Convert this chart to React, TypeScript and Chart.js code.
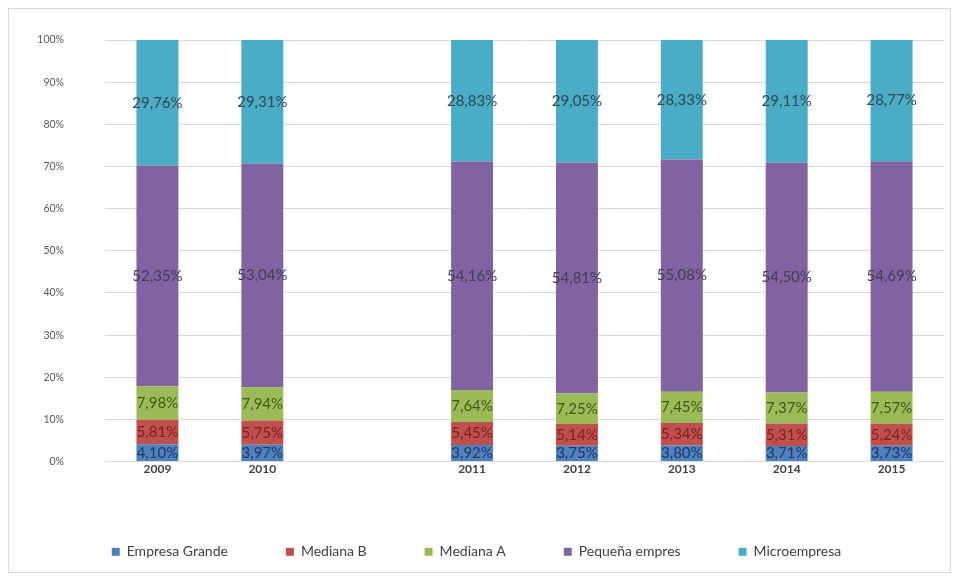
import React, { useEffect, useRef } from "react";
import { Chart, registerables } from "chart.js";

Chart.register(...registerables);

const categories = ["2009", "2010", "", "2011", "2012", "2013", "2014", "2015"];
const empresaGrande = [4.1, 3.97, null, 3.92, 3.75, 3.8, 3.71, 3.73];
const medianaB = [5.81, 5.75, null, 5.45, 5.14, 5.34, 5.31, 5.24];
const medianaA = [7.98, 7.94, null, 7.64, 7.25, 7.45, 7.37, 7.57];
const pequena = [52.35, 53.04, null, 54.16, 54.81, 55.08, 54.5, 54.69];
const micro = [29.76, 29.31, null, 28.83, 29.05, 28.33, 29.11, 28.77];
const seriesNames = ["Empresa Grande", "Mediana B", "Mediana A", "Pequeña empres", "Microempresa"];
const yTicks = [0, 10, 20, 30, 40, 50, 60, 70, 80, 90, 100];

const colors = ["#4F81BD", "#C0504D", "#9BBB59", "#8064A2", "#4BACC6"];
const labelColors = ["#1f3864", "#7a1f1d", "#3f5a14", "#463a58", "#2b4a56"];

const fmt = (v: number) => v.toFixed(2).replace(".", ",") + "%";

const dataLabels = {
  id: "dataLabels",
  afterDatasetsDraw(chart: any) {
    const ctx = chart.ctx;
    ctx.save();
    ctx.font = "15px Lato";
    ctx.textAlign = "center";
    ctx.textBaseline = "middle";
    chart.data.datasets.forEach((ds: any, di: number) => {
      const meta = chart.getDatasetMeta(di);
      meta.data.forEach((bar: any, i: number) => {
        const v = ds.data[i];
        if (v == null) return;
        const { x, y, base } = bar.getProps(["x", "y", "base"], true);
        ctx.fillStyle = labelColors[di];
        ctx.fillText(fmt(v), x, (y + base) / 2);
      });
    });
    ctx.restore();
  },
};

const legendShift = {
  id: "legendShift",
  afterInit(chart: any) {
    const lg = chart.legend;
    if (!lg) return;
    const orig = lg.fit.bind(lg);
    lg.fit = () => {
      orig();
      lg.height = 96;
    };
  },
};

export default function App() {
  const ref = useRef<HTMLCanvasElement>(null);
  useEffect(() => {
    if (!ref.current) return;
    const seriesData = [empresaGrande, medianaB, medianaA, pequena, micro];
    const chart = new Chart(ref.current, {
      type: "bar",
      data: {
        labels: categories,
        datasets: seriesData.map((d, i) => ({
          label: seriesNames[i],
          data: d,
          backgroundColor: colors[i],
          borderWidth: 0,
          categoryPercentage: 1,
          barPercentage: 0.4,
        })),
      },
      options: {
        animation: false,
        responsive: true,
        maintainAspectRatio: false,
        layout: { padding: { left: 0, right: 6, top: 31, bottom: 0 } },
        scales: {
          x: {
            stacked: true,
            grid: { display: false, drawTicks: false },
            border: { display: true, color: "#d9d9d9" },
            ticks: { color: "#404040", font: { family: "Lato", size: 12, weight: "bold" }, padding: 0 },
          },
          y: {
            stacked: true,
            min: 0,
            max: 100,
            afterBuildTicks: (axis: any) => {
              axis.ticks = yTicks.map((v) => ({ value: v }));
            },
            afterFit: (axis: any) => {
              axis.width = 96;
            },
            grid: { color: "#d9d9d9", drawTicks: true, tickLength: 38, tickColor: "rgba(0,0,0,0)" },
            border: { display: false },
            ticks: {
              color: "#595959",
              font: { family: "Lato", size: 10.5 },
              padding: 3,
              callback: (v: any) => v + "%",
            },
          },
        },
        plugins: {
          tooltip: { enabled: false },
          legend: {
            position: "bottom",
            title: { display: true, text: "", font: { size: 4 }, padding: { top: 6, bottom: 0 } },
            labels: {
              boxWidth: 8,
              boxHeight: 8,
              padding: 58,
              color: "#404040",
              font: { family: "Lato", size: 14 },
            },
          },
        },
      },
      plugins: [dataLabels, legendShift],
    });
    return () => chart.destroy();
  }, []);
  return (
    <div style={{ width: 943, height: 565, border: "1px solid #d9d9d9", boxSizing: "border-box", position: "relative" }}>
      <canvas ref={ref} />
    </div>
  );
}
